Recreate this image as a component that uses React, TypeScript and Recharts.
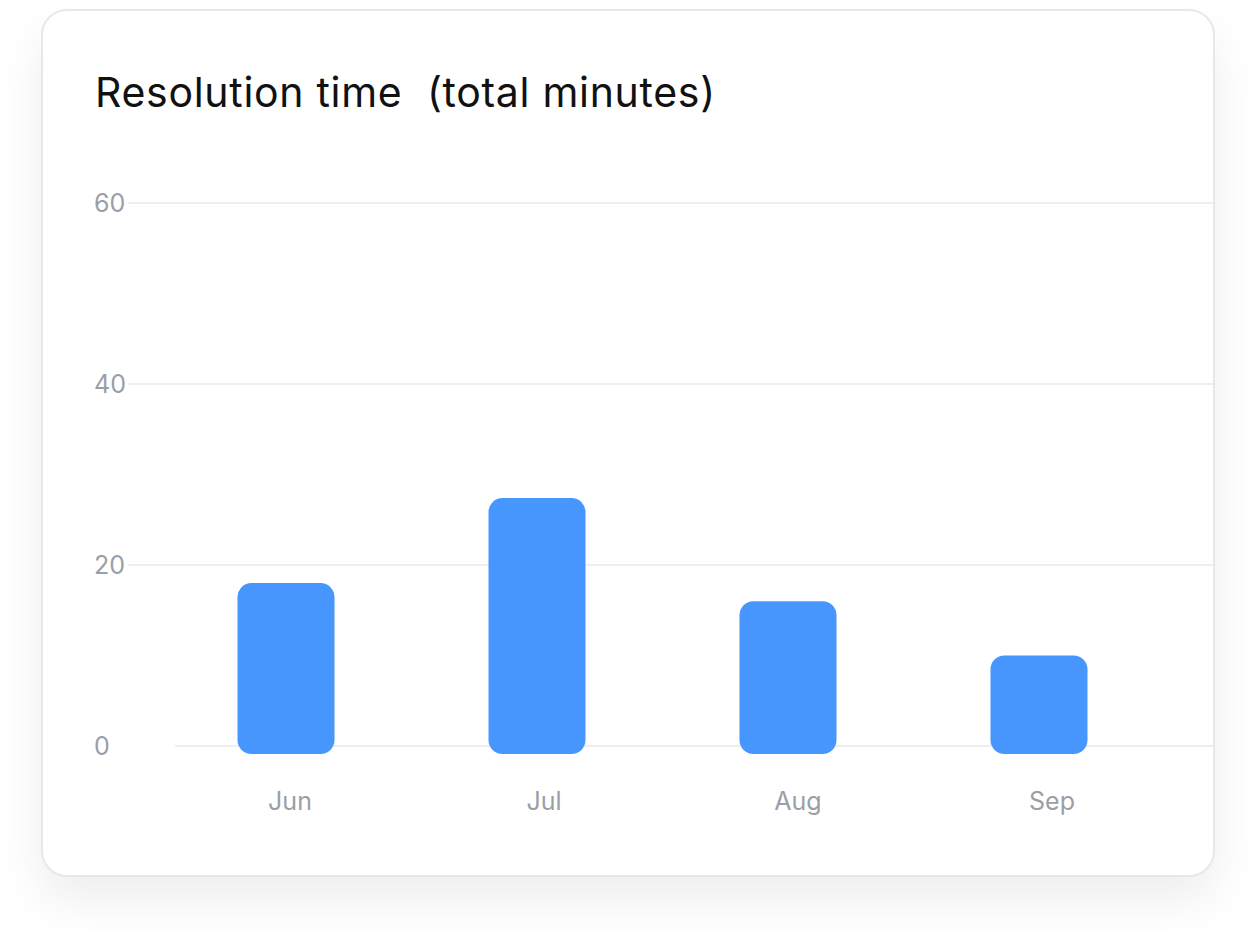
import React from 'react';
import { BarChart, Bar, XAxis, YAxis, CartesianGrid } from 'recharts';

const months = ['Jun', 'Jul', 'Aug', 'Sep'];
const minutes = [18, 27.4, 16, 10];
const yTicks = [0, 20, 40, 60];

const data = months.map((m, i) => ({ month: m, minutes: minutes[i] }));

const FONT = 'Inter, "Noto Sans", sans-serif';
const TICK_COLOR = '#9b9ea6';
const GRID_COLOR = '#eceef1';
const BAR_COLOR = '#4796fe';

const RoundedBar = (props: any) => {
  const { x, y, width, height, fill } = props;
  if (width == null || height == null) return null;
  const ext = 8;
  return <rect x={x} y={y} width={width} height={height + ext} rx={14} ry={14} fill={fill} />;
};

const GridLine = (props: any) => {
  const { x1, x2, y1, y, height } = props;
  const isBase = Math.abs(y1 - (y + height)) < 1;
  return (
    <line
      x1={isBase ? x1 + 47 : x1}
      x2={x2}
      y1={y1}
      y2={y1}
      stroke={GRID_COLOR}
      strokeWidth={2}
    />
  );
};

const YTick = (props: any) => {
  const { x, y, payload } = props;
  return (
    <text x={x - 34} y={y} dy="0.355em" textAnchor="start" fill={TICK_COLOR} fontSize={25} fontFamily={FONT}>
      {payload.value}
    </text>
  );
};

export default function App() {
  return (
    <div style={{ position: 'relative', width: 1256, height: 942, margin: -8, background: '#fff', overflow: 'hidden' }}>
      <div
        style={{
          position: 'absolute',
          left: 41,
          top: 9,
          width: 1174,
          height: 868,
          boxSizing: 'border-box',
          border: '2px solid #e7e8eb',
          borderRadius: 26,
          background: '#fff',
          boxShadow: '0 24px 48px rgba(0,0,0,0.07)',
        }}
      />
      <div
        style={{
          position: 'absolute',
          left: 95,
          top: 72,
          fontFamily: FONT,
          fontSize: 41,
          lineHeight: '41px',
          letterSpacing: '0.7px',
          color: '#111',
          whiteSpace: 'pre',
        }}
      >
        {'Resolution time  (total minutes)'}
      </div>
      <div style={{ position: 'absolute', left: 0, top: 0 }}>
        <BarChart width={1256} height={942} data={data} margin={{ top: 203, right: 43, bottom: 0, left: 0 }} barSize={97}>
          <CartesianGrid vertical={false} horizontal={GridLine} />
          <XAxis
            dataKey="month"
            axisLine={false}
            tickLine={false}
            tickSize={0}
            tickMargin={46}
            padding={{ left: 35, right: 34 }}
            height={196}
            tick={{ fill: TICK_COLOR, fontSize: 25, fontFamily: FONT }}
          />
          <XAxis
            xAxisId="bars"
            dataKey="month"
            hide
            padding={{ left: 32.5, right: 48.5 }}
          />
          <YAxis
            domain={[0, 60]}
            ticks={yTicks}
            axisLine={false}
            tickLine={false}
            tickSize={0}
            tickMargin={0}
            width={128}
            tick={<YTick />}
          />
          <Bar xAxisId="bars" dataKey="minutes" fill={BAR_COLOR} shape={<RoundedBar />} isAnimationActive={false} />
        </BarChart>
      </div>
    </div>
  );
}
